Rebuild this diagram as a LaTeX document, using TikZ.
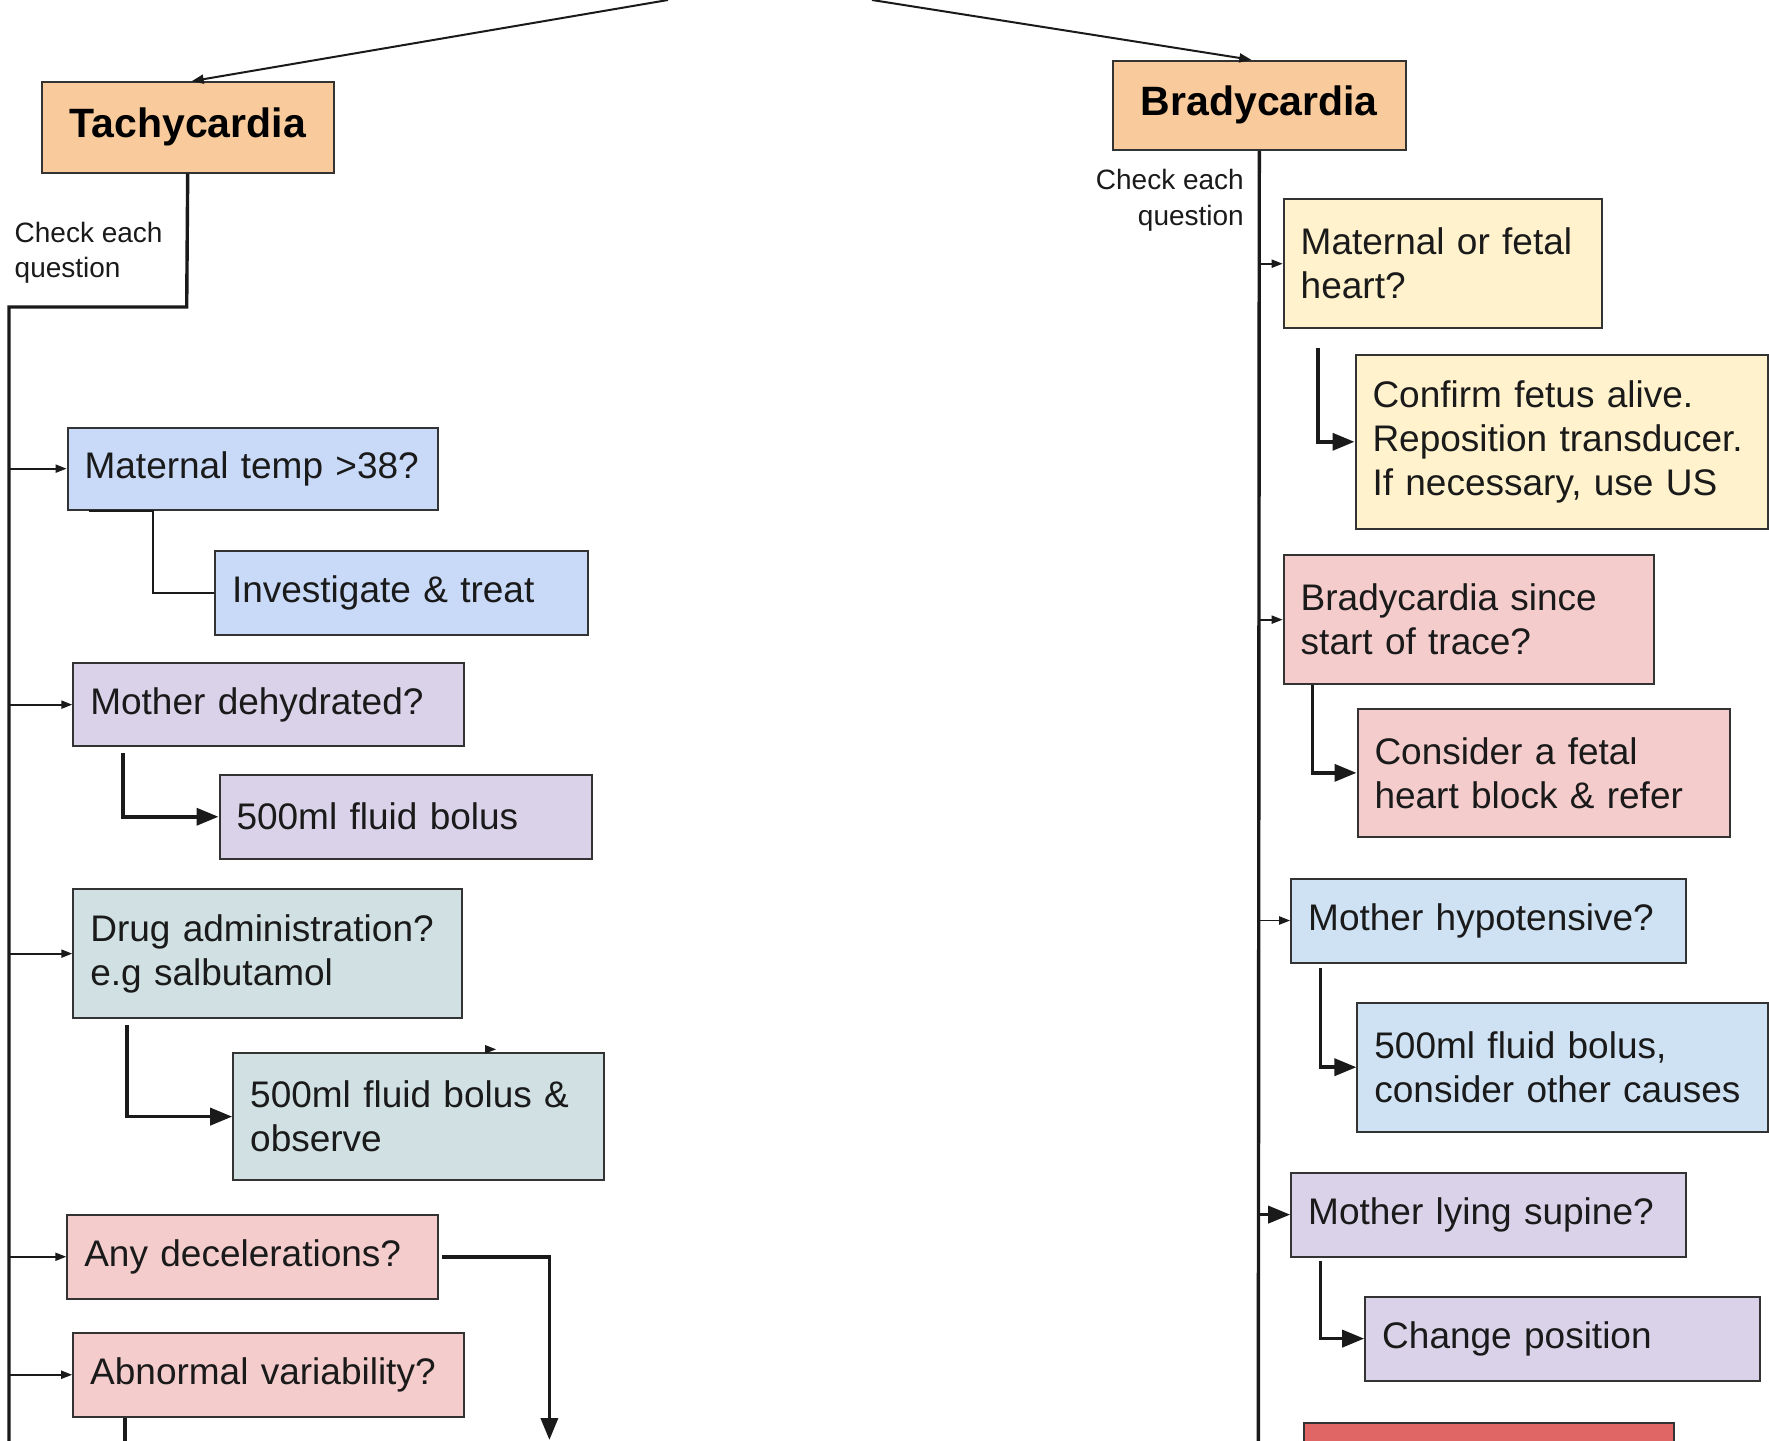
\documentclass[tikz,border=0pt]{standalone}
\usepackage{fontspec}
\setmainfont{Liberation Sans}
\usetikzlibrary{arrows.meta}

\definecolor{hdr}{HTML}{F9CB9C}
\definecolor{blueQ}{HTML}{C9DAF8}
\definecolor{lilac}{HTML}{D9D2E9}
\definecolor{tealQ}{HTML}{D0E0E3}
\definecolor{pinkQ}{HTML}{F4CCCC}
\definecolor{creamQ}{HTML}{FFF2CC}
\definecolor{skyQ}{HTML}{CFE2F3}
\definecolor{redQ}{HTML}{E06666}
\definecolor{edge}{HTML}{333333}
\definecolor{ink}{HTML}{1A1A1A}

\tikzset{
  qbox/.style={draw=edge, line width=2pt, anchor=north west, align=left,
    inner xsep=17pt, inner ysep=0pt, text=ink,
    font=\fontsize{37}{44}\selectfont},
  headbox/.style={draw=edge, line width=2pt, anchor=north west, fill=hdr,
    inner sep=0pt, text=black, font=\fontsize{41}{48}\selectfont\bfseries},
  sidenote/.style={inner sep=0pt, text=ink, font=\fontsize{28}{35.5}\selectfont},
  trunk/.style={draw=ink, line width=3.4pt},
  thinlink/.style={draw=ink, line width=1.8pt},
  smallarrow/.style={draw=ink, line width=1.9pt, -{Triangle[length=11pt,width=8pt]}},
  toparrow/.style={draw=ink, line width=2pt, -{Triangle[length=12pt,width=9pt]}},
  bigarrow/.style={draw=ink, line width=3.6pt, -{Triangle[length=22pt,width=17pt]}},
  thicklink/.style={draw=ink, line width=3.6pt},
}

\begin{document}
\begin{tikzpicture}[x=1pt,y=-1pt]
\useasboundingbox[fill=white] (0,0) rectangle (1769,1440);

% off-page origins and ends
\coordinate (rootL) at (668,0);
\coordinate (rootR) at (872,0);
\coordinate (trunkL) at (9,1445);
\coordinate (trunkR) at (1258.3,1445);
\coordinate (decelEnd) at (549.4,1440);
\coordinate (abnEnd) at (125,1445);

% headers
\node[headbox, minimum width=292.2pt, minimum height=90.3pt] (tachy) at (40.6,81.2) {Tachycardia\hspace{8pt}};
\node[headbox, minimum width=292.6pt, minimum height=89pt] (brady) at (1112,59.8) {Bradycardia\hspace{8pt}};

\draw[toparrow] (rootL) -- ([xshift=4pt]tachy.north);
\draw[toparrow] (rootR) -- ([xshift=-8pt]brady.north);

% tachycardia questions
\node[qbox, fill=blueQ, minimum width=370pt, minimum height=82.3pt, text width=336pt] (temp) at (66.6,426.5) {Maternal temp >38?};
\node[qbox, fill=blueQ, minimum width=373pt, minimum height=83.3pt, text width=339pt] (inv) at (214,550.3) {Investigate \& treat};
\node[qbox, fill=lilac, minimum width=390.5pt, minimum height=83.3pt, text width=356.5pt] (dehyd) at (72.3,662) {Mother dehydrated?};
\node[qbox, fill=lilac, minimum width=372pt, minimum height=83.5pt, text width=338pt] (bolusA) at (218.5,774) {500ml fluid bolus};
\node[qbox, fill=tealQ, minimum width=388.7pt, minimum height=129.3pt, text width=354.7pt] (drug) at (72.3,888) {Drug administration?\\e.g salbutamol};
\node[qbox, fill=tealQ, minimum width=370.4pt, minimum height=127.6pt, text width=336.4pt] (observe) at (232.2,1051.8) {500ml fluid bolus \&\\observe};
\node[qbox, fill=pinkQ, minimum width=370.6pt, minimum height=83.5pt, text width=336.6pt] (decel) at (66.3,1214) {Any decelerations?};
\node[qbox, fill=pinkQ, minimum width=390.6pt, minimum height=83.5pt, text width=356.6pt] (abn) at (72.2,1332) {Abnormal variability?};

% bradycardia questions
\node[qbox, fill=creamQ, minimum width=318pt, minimum height=128.8pt, text width=284pt] (mfh) at (1282.7,198.3) {Maternal or fetal\\heart?};
\node[qbox, fill=creamQ, minimum width=412.3pt, minimum height=173.6pt, text width=378.3pt] (confirm) at (1354.5,354) {Confirm fetus alive.\\Reposition transducer.\\If necessary, use US};
\node[qbox, fill=pinkQ, minimum width=370pt, minimum height=129.3pt, text width=336pt] (since) at (1282.7,554) {Bradycardia since\\start of trace?};
\node[qbox, fill=pinkQ, minimum width=372.5pt, minimum height=127.7pt, text width=338.5pt] (block) at (1356.5,708) {Consider a fetal\\heart block \& refer};
\node[qbox, fill=skyQ, minimum width=394.5pt, minimum height=84pt, text width=360.5pt] (hypo) at (1290.2,877.5) {Mother hypotensive?};
\node[qbox, fill=skyQ, minimum width=410.4pt, minimum height=129pt, text width=376.4pt] (bolusB) at (1356.4,1001.7) {500ml fluid bolus,\\consider other causes};
\node[qbox, fill=lilac, minimum width=394.5pt, minimum height=84pt, text width=360.5pt] (supine) at (1290.2,1171.6) {Mother lying supine?};
\node[qbox, fill=lilac, minimum width=394.8pt, minimum height=84pt, text width=360.8pt] (change) at (1364.2,1295.6) {Change position};
\node[qbox, fill=redQ, minimum width=370pt, minimum height=60pt] (redbox) at (1303.3,1422) {};

% side notes
\node[sidenote, anchor=west, align=left] (noteL) at (14.5,252.7) {Check each\\question};
\node[sidenote, anchor=east, align=right] (noteR) at (1244,200.3) {Check each\\question};

% tachycardia trunk and branches
\draw[trunk] (tachy.south) -- (186.7,307) -- (9,307) -- (trunkL);
\draw[smallarrow] (temp.west -| trunkL) -- (temp.west);
\draw[smallarrow] (dehyd.west -| trunkL) -- (dehyd.west);
\draw[smallarrow] (drug.west -| trunkL) -- (drug.west);
\draw[smallarrow] (decel.west -| trunkL) -- (decel.west);
\draw[smallarrow] (abn.west -| trunkL) -- (abn.west);

\draw[thinlink] ([xshift=22pt]temp.south west) -- ([xshift=86.4pt]temp.south west) |- (inv.west);
\draw[bigarrow] ([xshift=50.5pt,yshift=-6pt]dehyd.south west) |- (bolusA.west);
\draw[bigarrow] ([xshift=54.7pt,yshift=-5.5pt]drug.south west) |- (observe.west);
\draw[smallarrow] ([xshift=255pt,yshift=2.5pt]observe.north west) -- ([xshift=264pt,yshift=2.5pt]observe.north west);
\draw[bigarrow] ([xshift=3pt]decel.east) -| (decelEnd);
\draw[thicklink] ([xshift=52.8pt]abn.south west) -- (abnEnd);

% bradycardia trunk and branches
\draw[trunk] (brady.south) -- (trunkR);
\draw[smallarrow] (mfh.west -| trunkR) -- (mfh.west);
\draw[smallarrow] (since.west -| trunkR) -- (since.west);
\draw[smallarrow] (hypo.west -| trunkR) -- (hypo.west);
\draw[bigarrow] (supine.west -| trunkR) -- (supine.west);

\draw[bigarrow] ([xshift=35.3pt,yshift=-18.5pt]mfh.south west) |- (confirm.west);
\draw[bigarrow] ([xshift=29.8pt]since.south west) |- (block.west);
\draw[bigarrow] ([xshift=30.3pt,yshift=-4pt]hypo.south west) |- (bolusB.west);
\draw[bigarrow] ([xshift=30.3pt,yshift=-3pt]supine.south west) |- (change.west);
\end{tikzpicture}
\end{document}
